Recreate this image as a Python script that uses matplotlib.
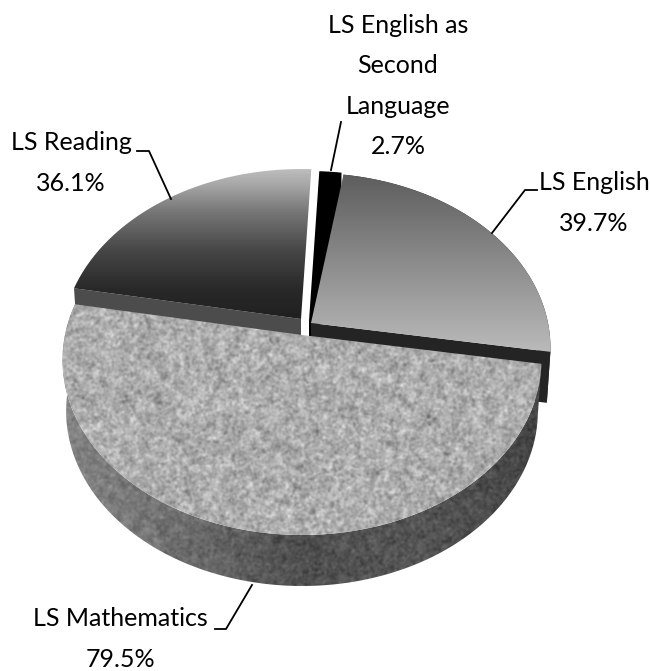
import numpy as np
import matplotlib
matplotlib.use("Agg")
import matplotlib.pyplot as plt
from matplotlib.patches import Polygon

names = ["LS English", "LS Mathematics", "LS Reading", "LS English as\nSecond\nLanguage"]
values = [39.7, 79.5, 36.1, 2.7]

# pie geometry in pixels, slices go clockwise from the top
first_angle = 9.0
R = 237.0
RY = 171.4
K = 0.143
depth = 51.0
shrink = 0.985
apex = {"LS English": (311, 323), "LS Mathematics": (302, 335), "LS Reading": (301, 319),
        "LS English as\nSecond\nLanguage": (309, 321)}

label_pos = {"LS English": (594, 203), "LS Mathematics": (120, 639), "LS Reading": (71, 163),
             "LS English as\nSecond\nLanguage": (398, 86)}
leaders = {"LS English": [(537, 190), (525, 190), (492, 233)],
           "LS Mathematics": [(215, 629), (226, 629), (252, 585)],
           "LS Reading": [(137, 151), (149, 151), (171, 199)],
           "LS English as\nSecond\nLanguage": [(341, 122), (331, 170)]}


def arc(name, a0, a1):
    t = np.radians(np.linspace(a0, a1, 200))
    s = 1 / (1 + K * np.cos(t))
    x = apex[name][0] + R * np.sin(t) * s
    y = apex[name][1] - RY * np.cos(t) * s
    return np.column_stack([x, y])


def lower(pts, a):
    # bottom face of a slice, a bit narrower than the top
    out = np.array(pts, dtype=float) + [0, depth]
    out[..., 0] = a[0] + (out[..., 0] - a[0]) * shrink
    return out


def smooth_noise(shape, size, seed):
    # speckle for the stone look of the big slice
    rng = np.random.default_rng(seed)
    n = rng.normal(size=shape)
    fy = np.fft.fftfreq(shape[0])[:, None]
    fx = np.fft.fftfreq(shape[1])[None, :]
    n = np.fft.ifft2(np.fft.fft2(n) * np.exp(-(fx**2 + fy**2) * (size * np.pi) ** 2 * 2)).real
    return n / n.std()


def clipped_image(ax, img, poly):
    im = ax.imshow(img, extent=(0, 650, 671, 0), cmap="gray", vmin=0, vmax=255,
                   interpolation="bilinear", aspect="auto", zorder=2)
    p = Polygon(poly, closed=True, transform=ax.transData, fc="none", ec="none")
    ax.add_patch(p)
    im.set_clip_path(p)


fig = plt.figure(figsize=(6.5, 6.71), dpi=100)
ax = fig.add_axes([0, 0, 1, 1])
ax.set_xlim(0, 650)
ax.set_ylim(671, 0)
ax.axis("off")

# slice angles
total = sum(values)
edges = first_angle + np.cumsum([0] + values) / total * 360
ang = {n: (edges[i], edges[i + 1]) for i, n in enumerate(names)}

yy, xx = np.mgrid[0:671, 0:650]

# Reading
n = names[2]
pts = arc(n, *ang[n])
a = np.array(apex[n])
ax.fill(*np.array([a, pts[0], lower(pts[0], a), lower(a, a)]).T, color="#4c4c4c", lw=0, zorder=2)
grad = np.interp(yy, [168, 185, 210, 250, 290, 320], [190, 165, 120, 70, 40, 32])
clipped_image(ax, grad, np.vstack([a, pts]))

# English as Second Language
n = names[3]
pts = arc(n, *ang[n])
a = np.array(apex[n])
ax.fill(*np.vstack([a, pts, lower(pts[-1], a), lower(a, a)]).T, color="black", lw=0, zorder=2)

# English
n = names[0]
pts = arc(n, *ang[n])
a = np.array(apex[n])
ax.fill(*np.vstack([pts, lower(pts, a)[::-1]]).T, color="#242424", lw=0, zorder=2)
ax.fill(*np.array([a, pts[-1], lower(pts[-1], a), lower(a, a)]).T, color="#242424", lw=0, zorder=2)
grad = np.interp(yy, [172, 350], [92, 185])
clipped_image(ax, grad, np.vstack([a, pts]))

# Mathematics
n = names[1]
pts = arc(n, *ang[n])
a = np.array(apex[n])
noise = 0.75 * smooth_noise(yy.shape, 1.1, 3) + 0.45 * smooth_noise(yy.shape, 2.4, 5)
wall = np.interp(xx, [60, 200, 300, 420, 545], [135, 105, 78, 85, 68]) + 8 * noise
clipped_image(ax, wall, np.vstack([pts, lower(pts, a)[::-1]]))
top = 172 + 15 * noise
clipped_image(ax, np.clip(top, 0, 255), np.vstack([a, pts]))

# labels and leader lines
for name, v in zip(names, values):
    x, y = label_pos[name]
    ax.text(x, y, f"{name}\n{v}%", ha="center", va="center", family="Lato", fontsize=18,
            color="black", linespacing=1.9, zorder=4)
    line = np.array(leaders[name])
    ax.plot(line[:, 0], line[:, 1], color="black", lw=1.3, zorder=3)

fig.savefig("out.png", dpi=100)
